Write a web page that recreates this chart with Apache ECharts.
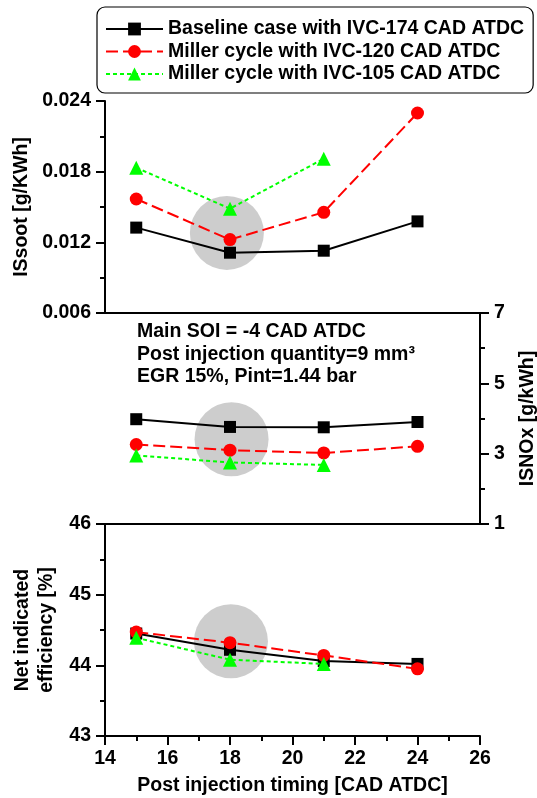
<!DOCTYPE html>
<html>
<head>
<meta charset="utf-8">
<script src="https://cdn.jsdelivr.net/npm/echarts@6/dist/echarts.min.js"></script>
<style>
html,body{margin:0;padding:0;background:#fff;}
#c{width:537px;height:798px;}
</style>
</head>
<body>
<div id="c"></div>
<script>
// ---- data ----
const timing = [15, 18, 21, 24];
const seriesNames = [
  'Baseline case with IVC-174 CAD ATDC',
  'Miller cycle with IVC-120 CAD ATDC',
  'Miller cycle with IVC-105 CAD ATDC'
];
const sootBase = [0.01325, 0.01112, 0.01129, 0.01378];
const sootIvc120 = [0.01568, 0.01223, 0.01455, 0.02298];
const sootIvc105 = [0.01834, 0.01486, 0.01910];
const noxBase = [3.98, 3.76, 3.75, 3.90];
const noxIvc120 = [3.26, 3.10, 3.02, 3.21];
const noxIvc105 = [2.95, 2.75, 2.68];
const effBase = [44.45, 44.22, 44.06, 44.02];
const effIvc120 = [44.47, 44.32, 44.14, 43.95];
const effIvc105 = [44.39, 44.08, 44.02];
const highlightX = [17.9, 18.05, 18.03];
const highlightSoot = 0.0128;
const highlightNox = 3.41;
const highlightEff = 44.34;
const annotationLines = [
  'Main SOI = -4 CAD ATDC',
  'Post injection quantity=9 mm\u00B3',
  'EGR 15%, Pint=1.44 bar'
];

const FONT = 'Liberation Sans, Arial, sans-serif';
const FS = 19.5;
const colors = ['#000000', '#ff0000', '#00ff00'];
const symbols = ['rect', 'circle', 'triangle'];
const symSizes = [12, 13, 14];
const lineTypes = ['solid', [12, 5], [4, 3]];

function pairs(xs, ys) { return ys.map((v, i) => [xs[i], v]); }

const axisLineStyle = { show: true, lineStyle: { color: '#000', width: 2 } };
const labelStyle = { color: '#000', fontSize: FS, fontWeight: 'bold', fontFamily: FONT };
const nameStyle = { color: '#000', fontSize: FS, fontWeight: 'bold', fontFamily: FONT };
const tickStyle = { show: true, length: 9, lineStyle: { color: '#000', width: 2 } };
const minorStyle = { show: true, splitNumber: 2, length: 5, lineStyle: { color: '#000', width: 2 } };

function lineOnlyX(grid, pos) {
  return {
    type: 'value', gridIndex: grid, position: pos, min: 14, max: 26, interval: 2,
    axisLine: axisLineStyle, axisTick: { show: false }, axisLabel: { show: false },
    splitLine: { show: false }
  };
}

const sets = [
  [sootBase, sootIvc120, sootIvc105],
  [noxBase, noxIvc120, noxIvc105],
  [effBase, effIvc120, effIvc105]
];
const xIdx = [0, 1, 3];

const series = [];
const hlY = [highlightSoot, highlightNox, highlightEff];
for (let g = 0; g < 3; g++) {
  series.push({
    type: 'scatter', xAxisIndex: xIdx[g], yAxisIndex: g, silent: true, z: 1,
    symbol: 'circle', symbolSize: 74,
    itemStyle: { color: '#c0c0c0' },
    data: [[highlightX[g], hlY[g]]]
  });
}
for (let g = 0; g < 3; g++) {
  for (let s = 0; s < 3; s++) {
    series.push({
      name: seriesNames[s], type: 'line', xAxisIndex: xIdx[g], yAxisIndex: g, z: 3 + s,
      symbol: symbols[s], symbolSize: symSizes[s], showSymbol: true,
      itemStyle: { color: colors[s] },
      lineStyle: { color: colors[s], width: 2, type: lineTypes[s] },
      data: pairs(timing, sets[g][s])
    });
  }
}

const gridBase = { left: 105, width: 375, outerBoundsMode: 'none', containLabel: false };

const option = {
  animation: false,
  backgroundColor: '#fff',
  legend: {
    data: seriesNames,
    orient: 'vertical',
    left: 97, top: 7,
    padding: [12, 9, 9, 8],
    itemGap: 2.5,
    itemWidth: 57, itemHeight: 16,
    borderColor: '#000', borderWidth: 1.2, borderRadius: 8,
    textStyle: { color: '#000', fontSize: FS, fontWeight: 'bold', fontFamily: FONT },
    selectedMode: false
  },
  grid: [
    Object.assign({ top: 101, height: 212 }, gridBase),
    Object.assign({ top: 313, height: 211 }, gridBase),
    Object.assign({ top: 524, height: 212 }, gridBase)
  ],
  xAxis: [
    { type: 'value', gridIndex: 0, min: 14, max: 26, interval: 2, show: false },
    lineOnlyX(1, 'top'),
    lineOnlyX(1, 'bottom'),
    {
      type: 'value', gridIndex: 2, position: 'bottom', min: 14, max: 26, interval: 2,
      axisLine: axisLineStyle, axisTick: tickStyle, minorTick: minorStyle,
      axisLabel: Object.assign({ margin: 13 }, labelStyle),
      splitLine: { show: false },
      name: 'Post injection timing [CAD ATDC]', nameLocation: 'middle', nameGap: 40,
      nameTextStyle: nameStyle
    }
  ],
  yAxis: [
    {
      type: 'value', gridIndex: 0, position: 'left', min: 0.006, max: 0.024, interval: 0.006,
      axisLine: axisLineStyle, axisTick: tickStyle, minorTick: minorStyle,
      axisLabel: Object.assign({ margin: 14, formatter: v => v.toFixed(3) }, labelStyle),
      splitLine: { show: false },
      name: 'ISsoot [g/KWh]', nameLocation: 'middle', nameRotate: 90, nameGap: 65,
      nameTextStyle: nameStyle
    },
    {
      type: 'value', gridIndex: 1, position: 'right', min: 1, max: 7, interval: 2,
      axisLine: axisLineStyle, axisTick: tickStyle, minorTick: minorStyle,
      axisLabel: Object.assign({ margin: 14 }, labelStyle),
      splitLine: { show: false },
      name: 'ISNOx [g/kWh]', nameLocation: 'middle', nameRotate: 90, nameGap: 38,
      nameTextStyle: nameStyle
    },
    {
      type: 'value', gridIndex: 2, position: 'left', min: 43, max: 46, interval: 1,
      axisLine: axisLineStyle, axisTick: tickStyle, minorTick: minorStyle,
      axisLabel: Object.assign({ margin: 14 }, labelStyle),
      splitLine: { show: false },
      name: 'Net indicated\nefficiency [%]', nameLocation: 'middle', nameRotate: 90, nameGap: 38,
      nameTextStyle: Object.assign({ lineHeight: 24 }, nameStyle)
    }
  ],
  graphic: annotationLines.map((t, i) => ({
    type: 'text', left: 137, top: 322 + i * 22.2,
    style: { text: t, fill: '#000', font: 'bold ' + FS + 'px ' + FONT }
  })),
  series: series
};

const chart = echarts.init(document.getElementById('c'), null, { renderer: 'canvas' });
chart.setOption(option);
</script>
</body>
</html>
